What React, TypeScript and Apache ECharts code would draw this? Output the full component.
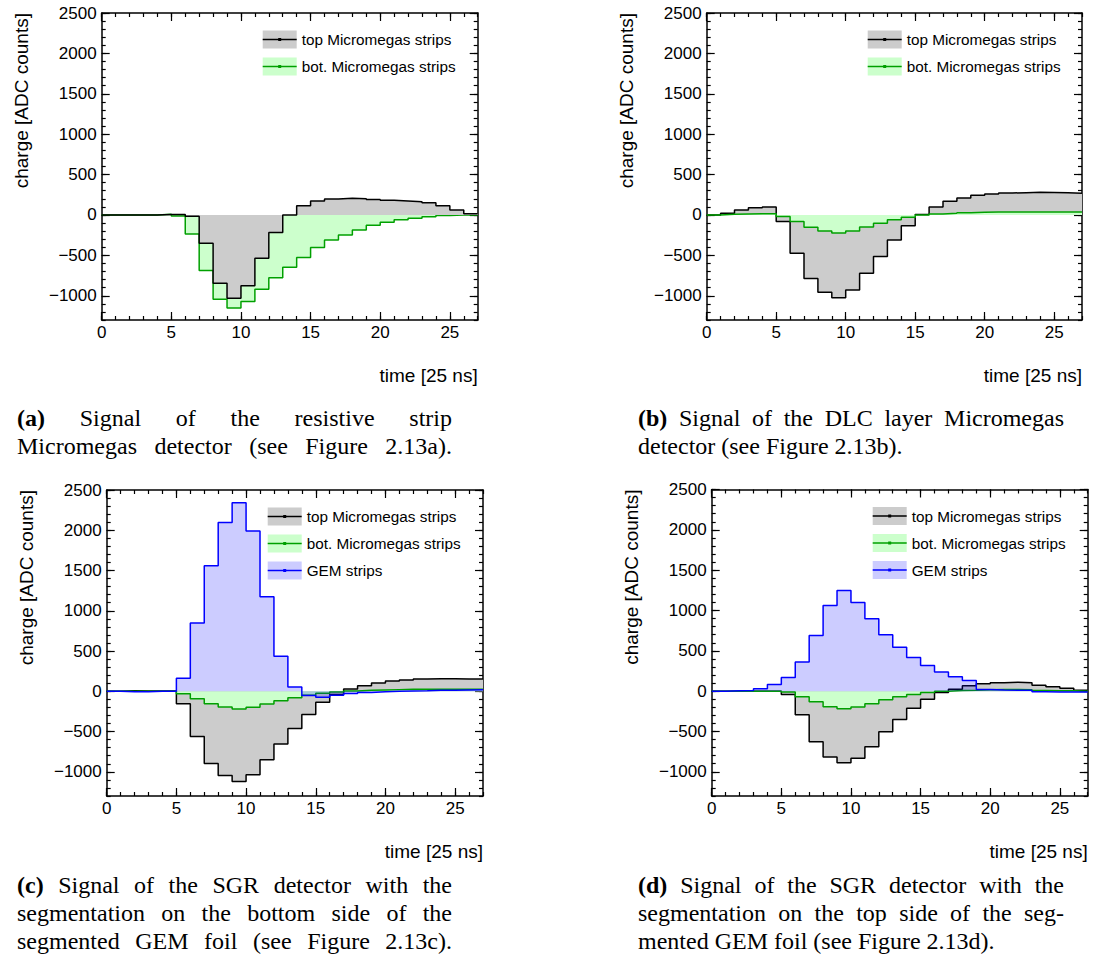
import React, { useEffect, useRef } from 'react';
import * as echarts from 'echarts';

// ---------- data ----------
const binStarts = [0, 1, 2, 3, 4, 5, 6, 7, 8, 9, 10, 11, 12, 13, 14, 15, 16, 17, 18, 19, 20, 21, 22, 23, 24, 25, 26];
const binEnd = 27;

const xTickValues = [0, 5, 10, 15, 20, 25];
const yTickValues = [-1000, -500, 0, 500, 1000, 1500, 2000, 2500];

const aTop = [0, 0, 0, 0, 5, 5, -15, -350, -845, -1030, -877, -535, -218, 0, 115, 173, 198, 206, 202, 193, 181, 173, 165, 152, 115, 62, 16];
const aBot = [0, 0, 0, 0, 8, -12, -237, -687, -1043, -1150, -1072, -918, -778, -646, -527, -403, -309, -247, -185, -128, -91, -58, -41, -21, -8, 0, 0];

const bTop = [0, 20, 62, 90, 99, -82, -473, -786, -955, -1025, -930, -720, -514, -309, -132, 5, 99, 169, 210, 243, 259, 272, 276, 280, 278, 274, 270];
const bBot = [0, 8, 12, 16, 16, -20, -82, -152, -198, -222, -198, -148, -103, -58, -29, 0, 12, 20, 29, 33, 37, 37, 37, 37, 37, 37, 37];

const cTop = [0, 8, 4, 4, 4, -153, -562, -897, -1045, -1120, -1037, -851, -653, -463, -289, -136, -41, 29, 70, 103, 128, 140, 153, 157, 157, 153, 153];
const cBot = [0, 0, 0, 0, 0, -29, -91, -153, -194, -219, -198, -157, -116, -79, -50, -25, -8, 4, 12, 17, 21, 25, 25, 25, 25, 25, 25];
const cGem = [0, -5, -5, 0, 0, 161, 847, 1558, 2095, 2343, 1992, 1174, 434, 54, -53, -75, -48, -28, -14, -6, 0, 5, 8, 12, 14, 16, 18];

const dTop = [0, 0, 0, 0, 0, -41, -293, -628, -818, -888, -831, -690, -504, -351, -212, -100, -18, 25, 68, 93, 103, 111, 105, 72, 54, 35, 10];
const dBot = [0, 0, 0, 0, 0, -12, -70, -132, -194, -219, -198, -157, -107, -70, -41, -17, 0, 8, 12, 17, 21, 21, 17, 8, 4, 4, 0];
const dGem = [0, 4, 8, 29, 83, 169, 360, 690, 1062, 1248, 1099, 897, 698, 545, 417, 318, 236, 178, 132, 20, 15, 12, 10, -8, -12, -12, -12];

const legendTop = 'top Micromegas strips';
const legendBot = 'bot. Micromegas strips';
const legendGem = 'GEM strips';
const xTitle = 'time [25 ns]';
const yTitle = 'charge [ADC counts]';

const captions = [
  { label: '(a)', lines: ['Signal of the resistive strip', 'Micromegas detector (see Figure 2.13a).'] },
  { label: '(b)', lines: ['Signal of the DLC layer Micromegas', 'detector (see Figure 2.13b).'] },
  { label: '(c)', lines: ['Signal of the SGR detector with the', 'segmentation on the bottom side of the', 'segmented GEM foil (see Figure 2.13c).'] },
  { label: '(d)', lines: ['Signal of the SGR detector with the', 'segmentation on the top side of the seg-', 'mented GEM foil (see Figure 2.13d).'] },
];

// ---------- styles ----------
const SANS = 'Liberation Sans';
const SERIF = 'Liberation Serif';
const C_TOP = { line: '#000000', fill: '#cccccc' };
const C_BOT = { line: '#00a000', fill: '#ccffcc' };
const C_GEM = { line: '#0000ff', fill: 'rgba(0,0,255,0.2)' };

const panels = [
  { left: 101.7, top: 13, width: 376, height: 307 },
  { left: 706.7, top: 13, width: 375.3, height: 307 },
  { left: 106.7, top: 490, width: 376.3, height: 306 },
  { left: 711.7, top: 489.5, width: 376, height: 306.5 },
];

const captionLayout = [
  { x0: 17, x1: 452, ys: [418, 446], justify: [true, true] },
  { x0: 638, x1: 1064, ys: [418, 446], justify: [true, false] },
  { x0: 17, x1: 452, ys: [885, 913, 941], justify: [true, true, true] },
  { x0: 638, x1: 1064, ys: [885, 913, 941], justify: [true, true, false] },
];

function histData(vals: number[]) {
  const d = binStarts.map((x, i) => [x, vals[i]]);
  d.push([binEnd, vals[vals.length - 1]]);
  return d;
}

const fmtY = (v: number) => (v < 0 ? '\u2212' + Math.abs(v) : String(v));

export default function App() {
  const ref = useRef<HTMLDivElement>(null);
  useEffect(() => {
    if (!ref.current) return;
    const chart = echarts.init(ref.current, null, { renderer: 'svg' });
    const canvas = document.createElement('canvas');
    const ctx = canvas.getContext('2d')!;
    const measure = (t: string, font: string) => {
      ctx.font = font;
      return ctx.measureText(t).width;
    };

    const grids: any[] = [];
    const xAxes: any[] = [];
    const yAxes: any[] = [];
    const series: any[] = [];
    const graphics: any[] = [];
    const axisLineStyle = { color: '#000', width: 1.5 };
    const tickStyle = { color: '#000', width: 1.2 };

    const panelSeries = [
      [
        { name: legendBot, vals: aBot, c: C_BOT },
        { name: legendTop, vals: aTop, c: C_TOP },
      ],
      [
        { name: legendTop, vals: bTop, c: C_TOP },
        { name: legendBot, vals: bBot, c: C_BOT },
      ],
      [
        { name: legendTop, vals: cTop, c: C_TOP },
        { name: legendBot, vals: cBot, c: C_BOT },
        { name: legendGem, vals: cGem, c: C_GEM },
      ],
      [
        { name: legendTop, vals: dTop, c: C_TOP },
        { name: legendBot, vals: dBot, c: C_BOT },
        { name: legendGem, vals: dGem, c: C_GEM },
      ],
    ];
    const panelLegends = [
      [{ n: legendTop, c: C_TOP }, { n: legendBot, c: C_BOT }],
      [{ n: legendTop, c: C_TOP }, { n: legendBot, c: C_BOT }],
      [{ n: legendTop, c: C_TOP }, { n: legendBot, c: C_BOT }, { n: legendGem, c: C_GEM }],
      [{ n: legendTop, c: C_TOP }, { n: legendBot, c: C_BOT }, { n: legendGem, c: C_GEM }],
    ];

    panels.forEach((p, gi) => {
      grids.push({ left: p.left, top: p.top, width: p.width, height: p.height, containLabel: false });
      const xBase = { gridIndex: gi, type: 'value', min: 0, max: binEnd, splitLine: { show: false } };
      xAxes.push({
        ...xBase, position: 'bottom', interval: 5,
        axisLine: { show: true, onZero: false, lineStyle: axisLineStyle },
        axisTick: { show: true, inside: true, length: 8, lineStyle: tickStyle, customValues: xTickValues },
        axisLabel: { show: true, customValues: xTickValues, fontSize: 17, color: '#000', fontFamily: SANS, margin: 4 },
      });
      xAxes.push({
        ...xBase, position: 'bottom', interval: 1,
        axisLine: { show: false, onZero: false },
        axisTick: { show: true, inside: true, length: 4, lineStyle: tickStyle },
        axisLabel: { show: false },
      });
      xAxes.push({
        ...xBase, position: 'top', interval: 5,
        axisLine: { show: true, onZero: false, lineStyle: axisLineStyle },
        axisTick: { show: true, inside: true, length: 8, lineStyle: tickStyle, customValues: xTickValues },
        axisLabel: { show: false },
      });
      xAxes.push({
        ...xBase, position: 'top', interval: 1,
        axisLine: { show: false, onZero: false },
        axisTick: { show: true, inside: true, length: 4, lineStyle: tickStyle },
        axisLabel: { show: false },
      });

      const yBase = { gridIndex: gi, type: 'value', min: -1300, max: 2500, interval: 100, splitLine: { show: false } };
      yAxes.push({
        ...yBase, position: 'left',
        axisLine: { show: true, onZero: false, lineStyle: axisLineStyle },
        axisTick: { show: true, inside: true, length: 8, lineStyle: tickStyle, customValues: yTickValues },
        axisLabel: { show: true, customValues: yTickValues, formatter: fmtY, fontSize: 17, color: '#000', fontFamily: SANS, margin: 5 },
      });
      yAxes.push({
        ...yBase, position: 'left',
        axisLine: { show: false, onZero: false },
        axisTick: { show: true, inside: true, length: 4, lineStyle: tickStyle },
        axisLabel: { show: false },
      });
      yAxes.push({
        ...yBase, position: 'right',
        axisLine: { show: true, onZero: false, lineStyle: axisLineStyle },
        axisTick: { show: true, inside: true, length: 8, lineStyle: tickStyle, customValues: yTickValues },
        axisLabel: { show: false },
      });
      yAxes.push({
        ...yBase, position: 'right',
        axisLine: { show: false, onZero: false },
        axisTick: { show: true, inside: true, length: 4, lineStyle: tickStyle },
        axisLabel: { show: false },
      });

      panelSeries[gi].forEach((s, si) => {
        series.push({
          type: 'line',
          name: s.name,
          xAxisIndex: gi * 4,
          yAxisIndex: gi * 4,
          step: 'end',
          data: histData(s.vals),
          showSymbol: false,
          symbol: 'none',
          silent: true,
          z: 2 + si,
          lineStyle: { color: s.c.line, width: 1.5 },
          areaStyle: { color: s.c.fill, opacity: 1, origin: 0 },
        });
      });

      panelLegends[gi].forEach((l, k) => {
        const ry = p.top + 26.5 + 27 * k;
        const sx = p.left + 161;
        graphics.push({ type: 'rect', shape: { x: sx, y: ry - 9, width: 34, height: 18 }, style: { fill: l.c.fill }, z: 100 });
        graphics.push({ type: 'line', shape: { x1: sx, y1: ry, x2: sx + 34, y2: ry }, style: { stroke: l.c.line, lineWidth: 1.5 }, z: 101 });
        graphics.push({ type: 'rect', shape: { x: sx + 15.5, y: ry - 1.5, width: 3, height: 3 }, style: { fill: l.c.line }, z: 102 });
        graphics.push({
          type: 'text', x: p.left + 200, y: ry, z: 103,
          style: { text: l.n, fontSize: 15.3, fontFamily: SANS, fill: '#000', verticalAlign: 'middle', align: 'left' },
        });
      });

      graphics.push({
        type: 'text', x: p.left + p.width, y: p.top + p.height + 55,
        style: { text: xTitle, fontSize: 19, fontFamily: SANS, fill: '#000', align: 'right', verticalAlign: 'middle' },
      });
      graphics.push({
        type: 'text', x: p.left - 80, y: p.top, rotation: Math.PI / 2,
        style: { text: yTitle, fontSize: 19, fontFamily: SANS, fill: '#000', align: 'right', verticalAlign: 'middle' },
      });

      const cap = captions[gi];
      const lay = captionLayout[gi];
      const fs = 24;
      const fontN = `normal ${fs}px "${SERIF}"`;
      const fontB = `bold ${fs}px "${SERIF}"`;
      cap.lines.forEach((line, li) => {
        const words: { t: string; bold: boolean }[] = [];
        if (li === 0) words.push({ t: cap.label, bold: true });
        line.split(' ').forEach((w) => words.push({ t: w, bold: false }));
        const widths = words.map((w) => measure(w.t, w.bold ? fontB : fontN));
        const total = widths.reduce((a, b) => a + b, 0);
        const spaceNat = measure(' ', fontN);
        let gap = spaceNat;
        if (lay.justify[li] && words.length > 1) gap = (lay.x1 - lay.x0 - total) / (words.length - 1);
        let x = lay.x0;
        words.forEach((w, wi) => {
          graphics.push({
            type: 'text', x, y: lay.ys[li],
            style: {
              text: w.t, fontSize: fs, fontFamily: SERIF, fontWeight: w.bold ? 'bold' : 'normal',
              fill: '#000', align: 'left', verticalAlign: 'middle',
            },
          });
          x += widths[wi] + gap;
        });
      });
    });

    chart.setOption({
      animation: false,
      backgroundColor: '#ffffff',
      grid: grids,
      xAxis: xAxes,
      yAxis: yAxes,
      series,
      graphic: { elements: graphics },
    });
    return () => chart.dispose();
  }, []);
  return <div ref={ref} style={{ position: 'absolute', left: 0, top: 0, width: 1094, height: 963 }} />;
}
